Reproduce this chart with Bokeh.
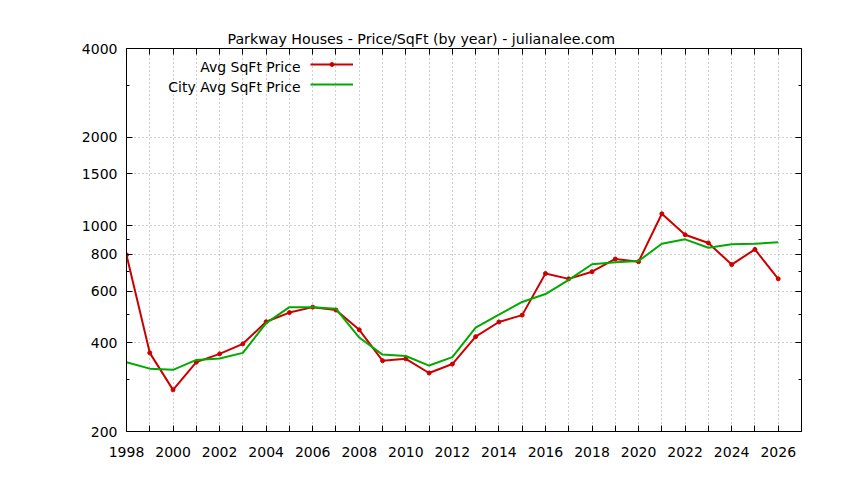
from bokeh.plotting import figure
from bokeh.models import (Range1d, FixedTicker, LinearAxis, LogAxis, Legend, LegendItem, Label, Title)
from bokeh.core.properties import value
from bokeh.embed import file_html
from bokeh.resources import INLINE

years = list(range(1998, 2027))
avg_price = [796, 370, 277, 344, 367, 397, 472, 507, 529, 517, 443, 348, 353, 316, 339,
             420, 471, 497, 688, 660, 698, 771, 755, 1098, 932, 874, 738, 831, 660]
city_price = [344, 327, 324, 350, 354, 370, 467, 529, 529, 522, 417, 365, 361, 335, 358,
              451, 499, 551, 586, 655, 740, 751, 759, 869, 899, 842, 865, 869, 878]
y_major = [200, 400, 600, 800, 1000, 1500, 2000, 4000]
y_minor = [300, 500, 700, 900, 3000]
title_text = "Parkway Houses - Price/SqFt (by year) - julianalee.com"
series_names = ["Avg SqFt Price", "City Avg SqFt Price"]

RED = "#cc0000"
GREEN = "#00aa00"
FONT = "DejaVu Sans"

p = figure(width=828, height=464, output_backend="svg", toolbar_location=None, title=None,
           y_axis_type="log", x_range=Range1d(1998, 2027), y_range=Range1d(200, 4000),
           min_border_left=126, min_border_right=27, min_border_top=48, min_border_bottom=33)
p.background_fill_color = "white"
p.border_fill_color = "white"
p.outline_line_color = "black"
p.outline_line_width = 1

xt = FixedTicker(ticks=years)
yt = FixedTicker(ticks=y_major, minor_ticks=y_minor)
xlabels = {y: (str(y) if y % 2 == 0 else "") for y in years}

def style_axis(ax, show_labels):
    ax.axis_line_color = "black"
    ax.major_tick_line_color = "black"
    ax.minor_tick_line_color = "black"
    ax.major_tick_in = 6
    ax.major_tick_out = 0
    ax.minor_tick_in = 3
    ax.minor_tick_out = 0
    ax.major_label_text_font = FONT
    ax.major_label_text_font_size = "14px"
    ax.major_label_text_color = "black"
    if not show_labels:
        ax.major_label_text_alpha = 0
        ax.major_label_text_font_size = "1px"
        ax.major_label_standoff = 0

xa = p.xaxis[0]
xa.ticker = xt
xa.major_label_overrides = xlabels
style_axis(xa, True)
xa.major_label_standoff = 15

ya = p.yaxis[0]
ya.ticker = yt
ya.major_label_overrides = {v: str(v) for v in y_major}
style_axis(ya, True)
ya.major_label_standoff = 9

ta = LinearAxis(ticker=FixedTicker(ticks=years))
style_axis(ta, False)
ta.major_label_standoff = 17
p.add_layout(ta, "above")
ra = LogAxis(ticker=FixedTicker(ticks=y_major, minor_ticks=y_minor))
style_axis(ra, False)
p.add_layout(ra, "right")

title = Title(text=title_text, align="left", vertical_align="bottom", text_font=FONT,
              text_font_size="14.2px", text_font_style="normal", text_color="black",
              offset=101, standoff=4)
p.add_layout(title, "above")

for g in (p.xgrid[0], p.ygrid[0]):
    g.grid_line_color = "#a0a0a0"
    g.grid_line_dash = "1 3"
    g.grid_line_width = 1
p.xgrid[0].ticker = xt
p.ygrid[0].ticker = yt

r_line = p.line(years, avg_price, line_color=RED, line_width=2)
r_pts = p.scatter(years, avg_price, marker="circle", size=4, fill_color=RED, line_color=RED)
g_line = p.line(years, city_price, line_color=GREEN, line_width=2)

leg = Legend(items=[LegendItem(label=value(" "), renderers=[r_line, r_pts]),
                    LegendItem(label=value(" "), renderers=[g_line])],
             location=(184, 337), orientation="vertical",
             glyph_width=43, glyph_height=10, label_height=20, label_width=1,
             spacing=0, padding=0, margin=0, label_standoff=0,
             border_line_alpha=0, background_fill_alpha=0,
             label_text_font_size="1px")
p.add_layout(leg, "center")

for i, name in enumerate(series_names):
    p.add_layout(Label(x=174, y=365 - 20 * i, x_units="screen", y_units="screen",
                       text=name, text_align="right", text_baseline="middle",
                       text_font=FONT, text_font_size="14px", text_color="black"))

open("out.html", "w").write(file_html(p, INLINE))
